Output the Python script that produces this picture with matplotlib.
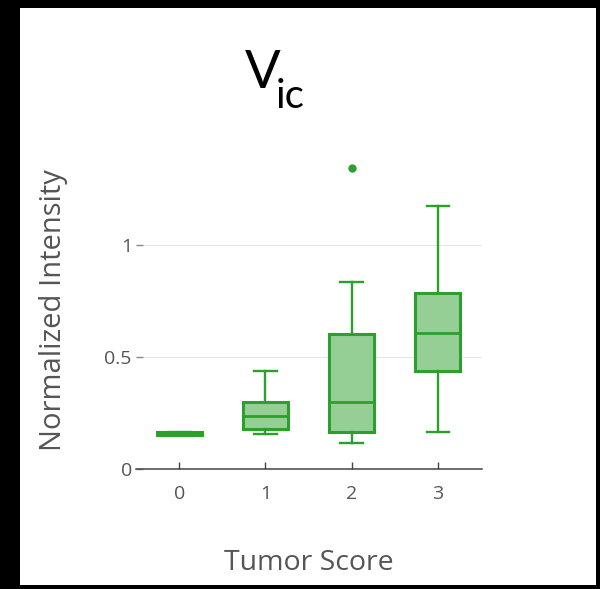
# BOX PLOT - Vic vs tumor score

import matplotlib.pyplot as plt
from matplotlib.patches import Rectangle

# datos (cuartiles leidos por grupo)
tumor_score = [0, 1, 2, 3]
q1 = [0.153, 0.180, 0.168, 0.439]
medianas = [0.159, 0.239, 0.299, 0.607]
q3 = [0.165, 0.302, 0.605, 0.786]
bigote_inf = [0.153, 0.159, 0.119, 0.168]
bigote_sup = [0.165, 0.439, 0.838, 1.175]
outliers = [[], [], [1.344], []]

y_ticks = [0, 0.5, 1]
y_tick_labels = ["0", "0.5", "1"]

VERDE = "#2ca02c"
RELLENO = "#95cf95"
GRIS = "#555555"

plt.rcParams['font.family'] = ['Open Sans', 'DejaVu Sans']

fig = plt.figure(figsize=(6, 5.89), dpi=100)
fig.patch.set_facecolor('black')
fig.patches.append(Rectangle((20 / 600, 4 / 589), 576 / 600, 577 / 589,
                             transform=fig.transFigure, facecolor='white',
                             edgecolor='none', zorder=0))

ax = fig.add_axes([136 / 600, 119.7 / 589, 346 / 600, 318 / 589])
ax.set_facecolor('none')
ax.set_zorder(2)

stats = []
for i in range(len(tumor_score)):
    stats.append(dict(med=medianas[i], q1=q1[i], q3=q3[i],
                      whislo=bigote_inf[i], whishi=bigote_sup[i],
                      fliers=outliers[i], label=str(tumor_score[i])))

ax.bxp(stats, positions=tumor_score, widths=0.52, capwidths=0.26,
       patch_artist=True,
       boxprops=dict(facecolor=RELLENO, edgecolor=VERDE, linewidth=2.2),
       whiskerprops=dict(color=VERDE, linewidth=1.7),
       capprops=dict(color=VERDE, linewidth=1.7),
       medianprops=dict(color=VERDE, linewidth=2),
       flierprops=dict(marker='o', markersize=5, markerfacecolor=VERDE,
                       markeredgecolor=VERDE))

ax.set_xlim(-0.503, 3.514)
ax.set_ylim(0, 1.42)

# rejilla horizontal
for yv in [0.5, 1]:
    ax.axhline(yv, color='#e6e6e6', linewidth=0.8, zorder=0)

for s in ['top', 'right', 'left']:
    ax.spines[s].set_visible(False)
ax.spines['bottom'].set_color('#444444')
ax.spines['bottom'].set_linewidth(1.1)

ax.set_xticks(tumor_score)
ax.set_xticklabels([str(t) for t in tumor_score])
ax.set_yticks(y_ticks)
ax.set_yticklabels(y_tick_labels)
ax.tick_params(axis='x', direction='in', length=5, width=1, color='#444444',
               labelcolor=GRIS, labelsize=14, pad=11)
ax.tick_params(axis='y', direction='in', length=5, width=1, color='#888888',
               labelcolor=GRIS, labelsize=14, pad=3)

fig.text(53 / 600, 1 - 310 / 589, 'Normalized Intensity', rotation=90,
         ha='center', va='center', color=GRIS, fontsize=21)
fig.text(309 / 600, 1 - 570 / 589, 'Tumor Score', ha='center',
         va='baseline', color=GRIS, fontsize=20.5)

# titulo V con subindice ic
fig.text(245 / 600, 1 - 88 / 589, 'V', ha='left', va='baseline',
         fontsize=38, color='black', family=['Lato', 'DejaVu Sans'])
fig.text(276 / 600, 1 - 108 / 589, 'ic', ha='left', va='baseline',
         fontsize=29, color='black', family=['Lato', 'DejaVu Sans'])

plt.savefig('out.png', dpi=100, facecolor=fig.get_facecolor())
